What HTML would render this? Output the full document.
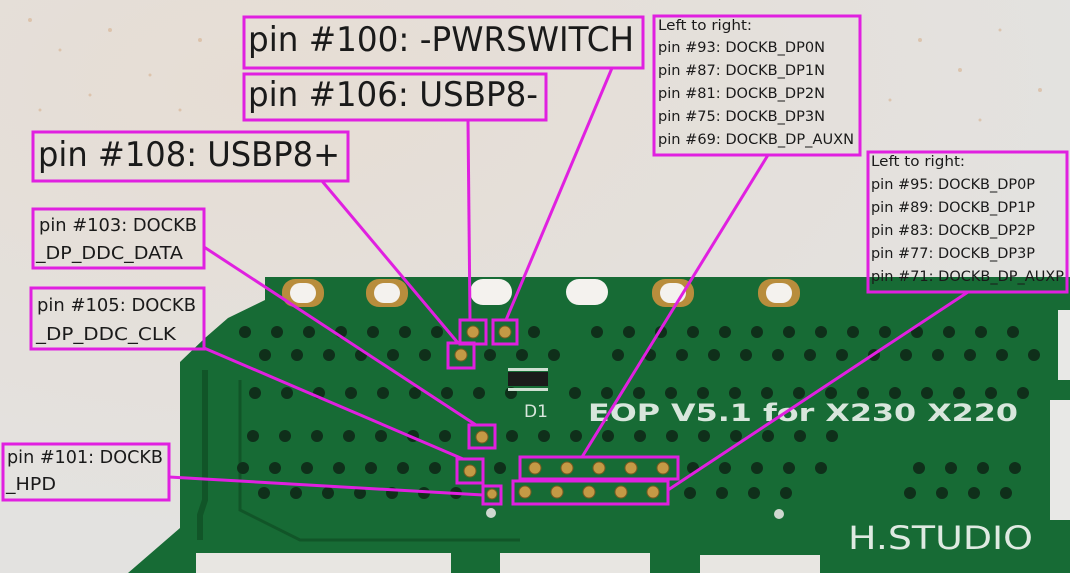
<!DOCTYPE html>
<html><head><meta charset="utf-8"><style>
html,body{margin:0;padding:0;width:1070px;height:573px;overflow:hidden;background:#e4e1de}
svg{display:block}
text{font-family:"DejaVu Sans","Liberation Sans",sans-serif;fill:#1a1a1a}
</style></head><body>
<svg width="1070" height="573" viewBox="0 0 1070 573" xmlns="http://www.w3.org/2000/svg">
<defs>
<radialGradient id="bg" cx="0.25" cy="0.15" r="0.8"><stop offset="0" stop-color="#e6ddd4"/><stop offset="1" stop-color="#e3e2e0"/></radialGradient>
</defs>
<rect width="1070" height="573" fill="url(#bg)"/>
<g fill="#d9b89a" opacity="0.7">
<circle cx="30" cy="20" r="2"/><circle cx="60" cy="50" r="1.5"/><circle cx="110" cy="30" r="2"/><circle cx="150" cy="75" r="1.5"/><circle cx="200" cy="40" r="2"/><circle cx="90" cy="95" r="1.5"/><circle cx="180" cy="110" r="1.5"/><circle cx="40" cy="110" r="1.5"/><circle cx="920" cy="40" r="2"/><circle cx="960" cy="70" r="2"/><circle cx="1000" cy="30" r="1.5"/><circle cx="1040" cy="90" r="2"/><circle cx="890" cy="100" r="1.5"/><circle cx="980" cy="120" r="1.5"/>
</g>
<path d="M265,277 L1070,277 L1070,573 L128,573 L180,528 L180,362 L205,338 L228,318 L265,300 Z" fill="#176b35"/>
<path d="M200,540 L200,515 L205,500 L205,370" stroke="#115528" stroke-width="6" fill="none"/>
<path d="M240,380 L240,510 L300,540 L520,540" stroke="#115528" stroke-width="3" fill="none"/>
<g>
<rect x="282" y="279" width="42" height="28" rx="13" fill="#b88d3c"/><rect x="290" y="283" width="26" height="20" rx="10" fill="#f4f2ee"/>
<rect x="366" y="279" width="42" height="28" rx="13" fill="#b88d3c"/><rect x="374" y="283" width="26" height="20" rx="10" fill="#f4f2ee"/>
<rect x="470" y="279" width="42" height="26" rx="13" fill="#f4f2ee"/>
<rect x="566" y="279" width="42" height="26" rx="13" fill="#f4f2ee"/>
<rect x="652" y="279" width="42" height="28" rx="13" fill="#b88d3c"/><rect x="660" y="283" width="26" height="20" rx="10" fill="#f4f2ee"/>
<rect x="758" y="279" width="42" height="28" rx="13" fill="#b88d3c"/><rect x="766" y="283" width="26" height="20" rx="10" fill="#f4f2ee"/>
</g>
<rect x="1058" y="310" width="12" height="70" fill="#e8e8e6"/>
<rect x="1050" y="400" width="20" height="120" fill="#e8e8e6"/>
<rect x="196" y="553" width="255" height="25" fill="#e8e6e2"/>
<rect x="500" y="553" width="150" height="25" fill="#e8e6e2"/>
<rect x="700" y="555" width="120" height="25" fill="#e8e6e2"/>
<g fill="#0f2f1a">
<circle cx="245" cy="332" r="6"/><circle cx="277" cy="332" r="6"/><circle cx="309" cy="332" r="6"/><circle cx="341" cy="332" r="6"/><circle cx="373" cy="332" r="6"/><circle cx="405" cy="332" r="6"/><circle cx="437" cy="332" r="6"/><circle cx="534" cy="332" r="6"/>
<circle cx="597" cy="332" r="6"/><circle cx="629" cy="332" r="6"/><circle cx="661" cy="332" r="6"/><circle cx="693" cy="332" r="6"/><circle cx="725" cy="332" r="6"/><circle cx="757" cy="332" r="6"/><circle cx="789" cy="332" r="6"/><circle cx="821" cy="332" r="6"/><circle cx="853" cy="332" r="6"/><circle cx="885" cy="332" r="6"/><circle cx="917" cy="332" r="6"/><circle cx="949" cy="332" r="6"/><circle cx="981" cy="332" r="6"/><circle cx="1013" cy="332" r="6"/>
<circle cx="265" cy="355" r="6"/><circle cx="297" cy="355" r="6"/><circle cx="329" cy="355" r="6"/><circle cx="361" cy="355" r="6"/><circle cx="393" cy="355" r="6"/><circle cx="425" cy="355" r="6"/><circle cx="490" cy="355" r="6"/><circle cx="522" cy="355" r="6"/><circle cx="554" cy="355" r="6"/>
<circle cx="618" cy="355" r="6"/><circle cx="650" cy="355" r="6"/><circle cx="682" cy="355" r="6"/><circle cx="714" cy="355" r="6"/><circle cx="746" cy="355" r="6"/><circle cx="778" cy="355" r="6"/><circle cx="810" cy="355" r="6"/><circle cx="842" cy="355" r="6"/><circle cx="874" cy="355" r="6"/><circle cx="906" cy="355" r="6"/><circle cx="938" cy="355" r="6"/><circle cx="970" cy="355" r="6"/><circle cx="1002" cy="355" r="6"/><circle cx="1034" cy="355" r="6"/>
<circle cx="255" cy="393" r="6"/><circle cx="287" cy="393" r="6"/><circle cx="319" cy="393" r="6"/><circle cx="351" cy="393" r="6"/><circle cx="383" cy="393" r="6"/><circle cx="415" cy="393" r="6"/><circle cx="447" cy="393" r="6"/><circle cx="479" cy="393" r="6"/><circle cx="511" cy="393" r="6"/><circle cx="575" cy="393" r="6"/><circle cx="607" cy="393" r="6"/><circle cx="639" cy="393" r="6"/><circle cx="671" cy="393" r="6"/><circle cx="703" cy="393" r="6"/><circle cx="735" cy="393" r="6"/><circle cx="767" cy="393" r="6"/><circle cx="799" cy="393" r="6"/><circle cx="831" cy="393" r="6"/><circle cx="863" cy="393" r="6"/><circle cx="895" cy="393" r="6"/><circle cx="927" cy="393" r="6"/><circle cx="959" cy="393" r="6"/><circle cx="991" cy="393" r="6"/><circle cx="1023" cy="393" r="6"/>
<circle cx="253" cy="436" r="6"/><circle cx="285" cy="436" r="6"/><circle cx="317" cy="436" r="6"/><circle cx="349" cy="436" r="6"/><circle cx="381" cy="436" r="6"/><circle cx="413" cy="436" r="6"/><circle cx="445" cy="436" r="6"/><circle cx="512" cy="436" r="6"/><circle cx="544" cy="436" r="6"/><circle cx="576" cy="436" r="6"/><circle cx="608" cy="436" r="6"/><circle cx="640" cy="436" r="6"/><circle cx="672" cy="436" r="6"/><circle cx="704" cy="436" r="6"/><circle cx="736" cy="436" r="6"/><circle cx="768" cy="436" r="6"/><circle cx="800" cy="436" r="6"/><circle cx="832" cy="436" r="6"/>
<circle cx="243" cy="468" r="6"/><circle cx="275" cy="468" r="6"/><circle cx="307" cy="468" r="6"/><circle cx="339" cy="468" r="6"/><circle cx="371" cy="468" r="6"/><circle cx="403" cy="468" r="6"/><circle cx="435" cy="468" r="6"/><circle cx="500" cy="468" r="6"/><circle cx="693" cy="468" r="6"/><circle cx="725" cy="468" r="6"/><circle cx="757" cy="468" r="6"/><circle cx="789" cy="468" r="6"/><circle cx="821" cy="468" r="6"/><circle cx="919" cy="468" r="6"/><circle cx="951" cy="468" r="6"/><circle cx="983" cy="468" r="6"/><circle cx="1015" cy="468" r="6"/>
<circle cx="264" cy="493" r="6"/><circle cx="296" cy="493" r="6"/><circle cx="328" cy="493" r="6"/><circle cx="360" cy="493" r="6"/><circle cx="392" cy="493" r="6"/><circle cx="424" cy="493" r="6"/><circle cx="456" cy="493" r="6"/><circle cx="690" cy="493" r="6"/><circle cx="722" cy="493" r="6"/><circle cx="754" cy="493" r="6"/><circle cx="786" cy="493" r="6"/><circle cx="910" cy="493" r="6"/><circle cx="942" cy="493" r="6"/><circle cx="974" cy="493" r="6"/><circle cx="1006" cy="493" r="6"/>
</g>
<g fill="#cfd8d0"><circle cx="491" cy="513" r="5"/><circle cx="779" cy="514" r="5"/></g>
<rect x="508" y="372" width="40" height="14" fill="#1b1b1b"/>
<rect x="508" y="368" width="40" height="3" fill="#cfe0d2"/><rect x="508" y="388" width="40" height="3" fill="#cfe0d2"/>
<text x="524" y="417" font-size="17" style="fill:#d8e6dc">D1</text>
<text x="588" y="421" font-size="24" font-weight="bold" textLength="430" lengthAdjust="spacingAndGlyphs" style="fill:#d8e6dc">EOP  V5.1  for  X230  X220</text>
<text x="848" y="549" font-size="32" textLength="185" lengthAdjust="spacingAndGlyphs" style="fill:#dfeae2">H.STUDIO</text>
<g fill="#c49a45" stroke="#7a5a20" stroke-width="1">
<circle cx="473" cy="332" r="6"/><circle cx="505" cy="332" r="6"/><circle cx="461" cy="355" r="6"/>
<circle cx="482" cy="437" r="6"/><circle cx="470" cy="471" r="6"/><circle cx="492" cy="494" r="5"/>
<circle cx="535" cy="468" r="6"/><circle cx="567" cy="468" r="6"/><circle cx="599" cy="468" r="6"/><circle cx="631" cy="468" r="6"/><circle cx="663" cy="468" r="6"/>
<circle cx="525" cy="492" r="6"/><circle cx="557" cy="492" r="6"/><circle cx="589" cy="492" r="6"/><circle cx="621" cy="492" r="6"/><circle cx="653" cy="492" r="6"/>
</g>
<g stroke="#e020e0" stroke-width="3" fill="none">
<rect x="244" y="17" width="399" height="51"/>
<rect x="244" y="74" width="302" height="46"/>
<rect x="33" y="132" width="315" height="49"/>
<rect x="33" y="209" width="171" height="59"/>
<rect x="31" y="288" width="173" height="61"/>
<rect x="3" y="444" width="166" height="56"/>
<rect x="654" y="16" width="206" height="139"/>
<rect x="868" y="152" width="199" height="140"/>
<rect x="460" y="320" width="26" height="24"/>
<rect x="493" y="320" width="24" height="24"/>
<rect x="448" y="343" width="26" height="25"/>
<rect x="469" y="425" width="26" height="23"/>
<rect x="457" y="459" width="26" height="24"/>
<rect x="483" y="486" width="18" height="18"/>
<rect x="520" y="457" width="158" height="22"/>
<rect x="513" y="481" width="155" height="23"/>
<line x1="612" y1="68" x2="506" y2="320"/>
<line x1="468" y1="120" x2="470" y2="320"/>
<line x1="322" y1="181" x2="458" y2="343"/>
<line x1="204" y1="247" x2="476" y2="425"/>
<line x1="204" y1="348" x2="463" y2="459"/>
<line x1="169" y1="477" x2="483" y2="495"/>
<line x1="768" y1="155" x2="582" y2="457"/>
<line x1="968" y1="292" x2="668" y2="490"/>
</g>
<g lengthAdjust="spacingAndGlyphs">
<text x="248" y="51" font-size="34" textLength="386" lengthAdjust="spacingAndGlyphs">pin #100: -PWRSWITCH</text>
<text x="248" y="106" font-size="34" textLength="290" lengthAdjust="spacingAndGlyphs">pin #106: USBP8-</text>
<text x="38" y="166" font-size="34" textLength="302" lengthAdjust="spacingAndGlyphs">pin #108: USBP8+</text>
<text x="39" y="231" font-size="18" textLength="158" lengthAdjust="spacingAndGlyphs">pin #103: DOCKB</text>
<text x="36" y="259" font-size="18" textLength="147" lengthAdjust="spacingAndGlyphs">_DP_DDC_DATA</text>
<text x="37" y="311" font-size="18" textLength="159" lengthAdjust="spacingAndGlyphs">pin #105: DOCKB</text>
<text x="36" y="340" font-size="18" textLength="140" lengthAdjust="spacingAndGlyphs">_DP_DDC_CLK</text>
<text x="7" y="463" font-size="18" textLength="156" lengthAdjust="spacingAndGlyphs">pin #101: DOCKB</text>
<text x="6" y="490" font-size="18" textLength="50" lengthAdjust="spacingAndGlyphs">_HPD</text>
<g font-size="14.5">
<text x="658" y="30" textLength="94" lengthAdjust="spacingAndGlyphs">Left to right:</text>
<text x="658" y="52" textLength="167" lengthAdjust="spacingAndGlyphs">pin #93: DOCKB_DP0N</text>
<text x="658" y="75" textLength="167" lengthAdjust="spacingAndGlyphs">pin #87: DOCKB_DP1N</text>
<text x="658" y="98" textLength="167" lengthAdjust="spacingAndGlyphs">pin #81: DOCKB_DP2N</text>
<text x="658" y="121" textLength="167" lengthAdjust="spacingAndGlyphs">pin #75: DOCKB_DP3N</text>
<text x="658" y="144" textLength="196" lengthAdjust="spacingAndGlyphs">pin #69: DOCKB_DP_AUXN</text>
<text x="871" y="166" textLength="94" lengthAdjust="spacingAndGlyphs">Left to right:</text>
<text x="871" y="189" textLength="164" lengthAdjust="spacingAndGlyphs">pin #95: DOCKB_DP0P</text>
<text x="871" y="212" textLength="164" lengthAdjust="spacingAndGlyphs">pin #89: DOCKB_DP1P</text>
<text x="871" y="235" textLength="164" lengthAdjust="spacingAndGlyphs">pin #83: DOCKB_DP2P</text>
<text x="871" y="258" textLength="164" lengthAdjust="spacingAndGlyphs">pin #77: DOCKB_DP3P</text>
<text x="871" y="281" textLength="193" lengthAdjust="spacingAndGlyphs">pin #71: DOCKB_DP_AUXP</text>
</g>
</g>
</svg>
</body></html>
